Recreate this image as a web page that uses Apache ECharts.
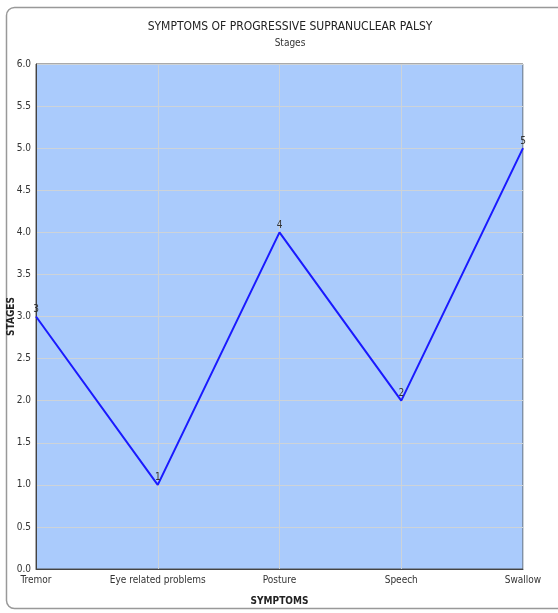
<!DOCTYPE html>
<html><head><meta charset="utf-8">
<script src="https://cdn.jsdelivr.net/npm/echarts@6/dist/echarts.min.js"></script>
<style>html,body{margin:0;padding:0;background:#fff}#c{width:558px;height:613px}</style>
</head><body><div id="c"></div>
<script>
const categories = ["Tremor", "Eye related problems", "Posture", "Speech", "Swallow"];
const stages = [3, 1, 4, 2, 5];
const yTicks = { min: 0, max: 6, interval: 0.5 };
const FONT = "'DejaVu Sans Condensed','Open Sans',sans-serif";
const seriesData = stages.map((v, i) => {
  if (i === 0) return {value: v, label: {show: true, position: 'top', offset: [4, 0]}};
  if (i === stages.length - 1) return {value: v, label: {show: true, position: 'top', offset: [-3, 0]}};
  return v;
});
const chart = echarts.init(document.getElementById('c'), null, {renderer: 'canvas'});
chart.setOption({
  animation: false,
  backgroundColor: '#fff',
  graphic: [{
    type: 'rect', shape: {x: 6.5, y: 7.5, width: 600, height: 601, r: 8},
    style: {fill: 'none', stroke: '#999', lineWidth: 1.5}, silent: true, z: -1
  }],
  title: {
    text: 'SYMPTOMS OF PROGRESSIVE SUPRANUCLEAR PALSY',
    subtext: 'Stages',
    left: 285, textAlign: 'center', top: 16, itemGap: 5,
    textStyle: {fontFamily: FONT, fontSize: 12, fontWeight: 'normal', color: '#222'},
    subtextStyle: {fontFamily: FONT, fontSize: 10, color: '#333'}
  },
  grid: {left: 36, right: 35, top: 64, bottom: 44, show: true, backgroundColor: '#aacbfc', borderColor: '#555', borderWidth: 1, outerBoundsMode: 'none', containLabel: false},
  xAxis: {
    type: 'category', data: categories, boundaryGap: false,
    name: 'SYMPTOMS', nameLocation: 'middle', nameGap: 27,
    nameTextStyle: {fontFamily: FONT, fontSize: 10, fontWeight: 'bold', color: '#222'},
    axisLine: {lineStyle: {color: '#444'}}, axisTick: {show: false},
    axisLabel: {interval: 0, hideOverlap: false, fontFamily: FONT, fontSize: 10, color: '#333', margin: 6},
    splitLine: {show: true, interval: 0, lineStyle: {color: '#cdd3d8', width: 1}}
  },
  yAxis: {
    type: 'value', min: yTicks.min, max: yTicks.max, interval: yTicks.interval,
    name: 'STAGES', nameLocation: 'middle', nameGap: 20, nameRotate: 90, nameMoveOverlap: false,
    nameTextStyle: {fontFamily: FONT, fontSize: 10, fontWeight: 'bold', color: '#222'},
    axisLine: {show: true, lineStyle: {color: '#444'}}, axisTick: {show: false},
    axisLabel: {fontFamily: FONT, fontSize: 10, color: '#333', margin: 5, formatter: v => v.toFixed(1)},
    splitLine: {show: true, lineStyle: {color: '#cdd3d8', width: 1}}
  },
  series: [{
    type: 'line', data: seriesData, symbol: 'circle', symbolSize: 2, showSymbol: true,
    itemStyle: {color: 'rgba(26,26,255,0)'},
    lineStyle: {color: '#1a1aff', width: 2},
    label: {show: true, position: 'top', distance: 1, fontFamily: FONT, fontSize: 10, color: '#333'},
    labelLayout: {hideOverlap: false}
  }]
});
</script></body></html>
